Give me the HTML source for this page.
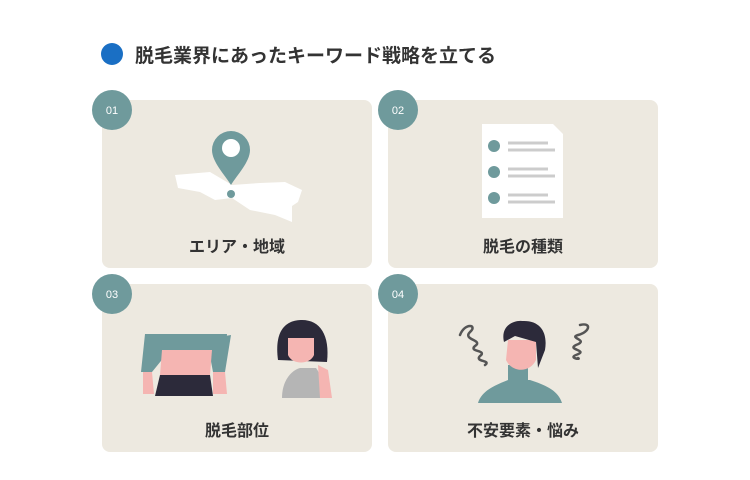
<!DOCTYPE html><html><head><meta charset="utf-8"><style>body{margin:0;background:#fff}svg{display:block}text{font-family:"Liberation Sans","Noto Sans CJK JP",sans-serif}</style></head><body>
<svg width="750" height="480" viewBox="0 0 750 480">
<rect width="750" height="480" fill="#fff"/>
<circle cx="112" cy="54" r="11" fill="#1a6fc4"/>
<text x="135" y="62" font-size="19" font-weight="bold" fill="#333">脱毛業界にあったキーワード戦略を立てる</text>
<g fill="#ede9e0">
<rect x="102" y="100" width="270" height="168" rx="8"/>
<rect x="388" y="100" width="270" height="168" rx="8"/>
<rect x="102" y="284" width="270" height="168" rx="8"/>
<rect x="388" y="284" width="270" height="168" rx="8"/>
</g>
<g fill="#6f9a9c">
<circle cx="112" cy="110" r="20"/><circle cx="398" cy="110" r="20"/>
<circle cx="112" cy="294" r="20"/><circle cx="398" cy="294" r="20"/>
</g>
<g fill="#fff" font-size="11" text-anchor="middle">
<text x="112" y="114">01</text><text x="398" y="114">02</text><text x="112" y="298">03</text><text x="398" y="298">04</text>
</g>
<g font-size="16" font-weight="bold" fill="#333" text-anchor="middle">
<text x="237" y="252">エリア・地域</text><text x="523" y="252">脱毛の種類</text>
<text x="237" y="436">脱毛部位</text><text x="523" y="436">不安要素・悩み</text>
</g>
<!-- card1 map -->
<path d="M175 175 L210 172 L232 185 L260 183 L285 182 L302 190 L298 202 L292 206 L292 222 L275 215 L250 210 L232 198 L215 200 L200 192 L178 188 Z" fill="#fff"/>
<path d="M231 185 C225 175 212 162 212 150 A19 19 0 0 1 250 150 C250 162 237 175 231 185 Z" fill="#6f9a9c"/>
<circle cx="231" cy="148" r="9" fill="#fff"/>
<circle cx="231" cy="194" r="4" fill="#6f9a9c"/>
<!-- card2 doc -->
<path d="M482 124 L553 124 L563 134 L563 218 L482 218 Z" fill="#fff"/>
<g fill="#6f9a9c"><circle cx="494" cy="146" r="6"/><circle cx="494" cy="172" r="6"/><circle cx="494" cy="198" r="6"/></g>
<g stroke="#ccc" stroke-width="3"><line x1="508" y1="143" x2="548" y2="143"/><line x1="508" y1="150" x2="555" y2="150"/><line x1="508" y1="169" x2="548" y2="169"/><line x1="508" y1="176" x2="555" y2="176"/><line x1="508" y1="195" x2="548" y2="195"/><line x1="508" y1="202" x2="555" y2="202"/></g>
<!-- card3 -->
<path d="M145 334 L227 334 L226 350 L207 356 L190 357 L165 356 L152 372 L141 372 Z" fill="#6f9a9c"/>
<path d="M225 336 L231 335 L225 372 L213 372 L210 356 Z" fill="#6f9a9c"/>
<path d="M162 350 L212 350 L210 375 L160 375 Z" fill="#f5b5b2"/>
<path d="M143 372 L152 372 L154 394 L143 394 Z M213 372 L225 372 L227 394 L213 394 Z" fill="#f5b5b2"/>
<path d="M160 375 L210 375 L213 396 L155 396 Z" fill="#2c2a3a"/>
<path d="M278 360 C274 330 286 320 302 320 C320 320 330 335 327 362 Z" fill="#2c2a3a"/>
<path d="M288 338 L314 338 L314 355 C310 365 292 365 288 355 Z" fill="#f5b5b2"/>
<path d="M282 398 C282 380 292 370 300 368 L316 368 C322 375 322 390 320 398 Z" fill="#b5b5b5"/>
<path d="M318 365 L328 370 L332 398 L320 398 Z" fill="#f5b5b2"/>
<!-- card4 -->
<path d="M478 403 C482 390 496 385 508 380 L530 380 C545 385 558 390 562 403 Z" fill="#6f9a9c"/>
<rect x="508" y="365" width="20" height="16" fill="#6f9a9c"/>
<path d="M508 340 L536 340 L536 360 C530 373 512 373 506 360 Z" fill="#f5b5b2"/>
<path d="M504 342 C500 325 515 320 522 321 C540 320 548 332 545 350 L538 368 L536 342 L515 336 Z" fill="#2c2a3a"/>
<g fill="none" stroke="#555" stroke-width="2.5" stroke-linecap="round">
<path d="M460 335 C465 322 478 325 470 332 C462 340 484 340 475 346 C468 352 488 350 480 356 C474 362 492 360 485 365"/>
<path d="M580 325 C592 322 590 332 578 335 C568 338 590 340 576 345 C566 350 590 350 576 355 C568 358 582 360 578 358"/>
</g>
</svg></body></html>
